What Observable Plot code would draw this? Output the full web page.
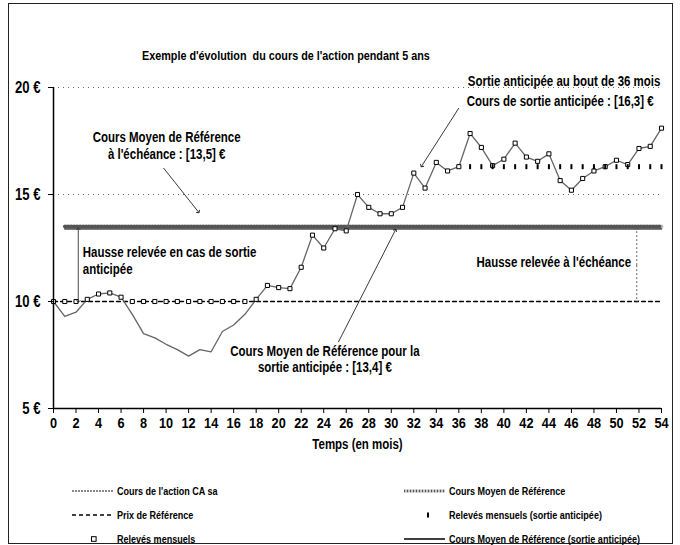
<!DOCTYPE html>
<html><head><meta charset="utf-8">
<script src="https://cdn.jsdelivr.net/npm/d3@7"></script>
<script src="https://cdn.jsdelivr.net/npm/@observablehq/plot@0.6"></script>
<style>
body{margin:0;background:#fff;}
#wrap{position:relative;width:680px;height:545px;font-family:"Liberation Sans",Arial,sans-serif;font-weight:bold;color:#000;}
#frame{position:absolute;left:8px;top:3px;width:665px;height:541px;border:1px solid #222;box-sizing:border-box;}
#title{position:absolute;top:48px;left:0;width:572px;text-align:center;font-size:13.5px;white-space:pre;z-index:2;}
#title span{display:inline-block;transform:scaleX(0.8);transform-origin:center;}
#chart{position:absolute;top:40px;left:0;}
.lg{position:absolute;font-size:11px;display:flex;align-items:center;white-space:nowrap;}
.lg svg{margin-right:4px;flex:none;}
.lg span{display:inline-block;transform:scaleX(0.82);transform-origin:left center;}
</style></head>
<body>
<div id="wrap">
<div id="frame"></div>
<div id="chart"></div>
<div id="title"><span>Exemple d'évolution  du cours de l'action pendant 5 ans</span></div>
<div id="legend"></div>
</div>
<script>
// ---- data ----
const mois = [0,1,2,3,4,5,6,7,8,9,10,11,12,13,14,15,16,17,18,19,20,21,22,23,24,25,26,27,28,29,30,31,32,33,34,35,36,37,38,39,40,41,42,43,44,45,46,47,48,49,50,51,52,53,54];
const cours = [10.0,9.3,9.5,10.1,10.35,10.4,10.2,9.4,8.5,8.3,8.0,7.75,7.45,7.75,7.65,8.6,8.9,9.4,10.1,10.75,10.65,10.6,11.6,13.1,12.5,13.4,13.3,15.0,14.4,14.1,14.1,14.4,16.0,15.3,16.5,16.1,16.3,17.85,17.2,16.35,16.65,17.4,16.75,16.55,16.9,15.65,15.2,15.75,16.1,16.3,16.6,16.4,17.15,17.25,18.1];
const releves = [10,10,10,10.1,10.35,10.4,10.2,10,10,10,10,10,10,10,10,10,10,10,10.1,10.75,10.65,10.6,11.6,13.1,12.5,13.4,13.3,15.0,14.4,14.1,14.1,14.4,16.0,15.3,16.5,16.1,16.3,17.85,17.2,16.35,16.65,17.4,16.75,16.55,16.9,15.65,15.2,15.75,16.1,16.3,16.6,16.4,17.15,17.25,18.1];
const moisSortie = [37,38,39,40,41,42,43,44,45,46,47,48,49,50,51,52,53,54];
const relevesSortie = [16.3,16.3,16.3,16.3,16.3,16.3,16.3,16.3,16.3,16.3,16.3,16.3,16.3,16.3,16.3,16.3,16.3,16.3];
const prixReference = 10;
const coursMoyen = 13.5;
const coursMoyenSortie = 13.4;
const moisDebutMoyen = 1;
const gridVals = [15, 20];
const xTicks = [0,2,4,6,8,10,12,14,16,18,20,22,24,26,28,30,32,34,36,38,40,42,44,46,48,50,52,54];
const yTicks = [5,10,15,20];
const xLabel = "Temps (en mois)";

const annotations = [
  {text:"Sortie anticipée au bout de 36 mois", x:53.9, y:20.32, anchor:"end", lh:1.2},
  {text:"Cours de sortie anticipée : [16,3] €", x:53.3, y:19.37, anchor:"end", lh:1.2},
  {text:"Cours Moyen de Référence\nà l'échéance : [13,5] €", x:10.05, y:17.29, anchor:"middle", lh:1.2},
  {text:"Hausse relevée en cas de sortie\nanticipée", x:2.6, y:11.94, anchor:"start", lh:1.2},
  {text:"Hausse relevée à l'échéance", x:51.3, y:11.85, anchor:"end", lh:1.2},
  {text:"Cours Moyen de Référence pour la\nsortie anticipée : [13,4] €", x:24.1, y:7.31, anchor:"middle", lh:1.15}
];
const arrows = [
  {x1:36.0, y1:19.04, x2:32.7, y2:16.33},
  {x1:9.77, y1:16.24, x2:12.88, y2:14.18},
  {x1:25.3, y1:8.1, x2:30.37, y2:13.34}
];
const doubleArrows = [
  {x:2.2, y1:10.0, y2:13.4, dash:null},
  {x:51.8, y1:10.0, y2:13.4, dash:"2,2"}
];

// ---- tables ----
const coursData = mois.map((m,i)=>({m, v:cours[i]}));
const relevesData = mois.map((m,i)=>({m, v:releves[i]}));
const sortieData = moisSortie.map((m,i)=>({m, v:relevesSortie[i]}));
const prixData = [{m:mois[0], v:prixReference},{m:mois[mois.length-1], v:prixReference}];
const moyenData = [{m:moisDebutMoyen, v:coursMoyen},{m:mois[mois.length-1], v:coursMoyen}];
const moyenSortieData = [{m:moisDebutMoyen, v:coursMoyenSortie},{m:mois[mois.length-1], v:coursMoyenSortie}];
const halfArrows = doubleArrows.flatMap(d=>{const mid=(d.y1+d.y2)/2; return [
  {x:d.x, y1:mid, y2:d.y1, dash:d.dash},{x:d.x, y1:mid, y2:d.y2, dash:d.dash}];});

const FONT = '"Liberation Sans",Arial,sans-serif';
const barSymbol = {draw(ctx){ ctx.rect(-1, -2.5, 2, 5); }};

const chart = Plot.plot({
  width: 680, height: 422,
  marginLeft: 53, marginRight: 19, marginTop: 47, marginBottom: 54,
  style: {fontFamily: FONT, fontWeight: "bold", color: "#000", background: "transparent", overflow: "visible"},
  x: {domain: [0, 54]},
  y: {domain: [5, 20]},
  marks: [
    Plot.ruleY(gridVals, {stroke: "#666", strokeDasharray: "1,4", strokeWidth: 1}),
    Plot.line(moyenSortieData, {x: "m", y: "v", stroke: "#000", strokeWidth: 1.6}),
    Plot.line(moyenData, {x: "m", y: "v", stroke: "#c4c4c4", strokeWidth: 4}),
    Plot.line(moyenData, {x: "m", y: "v", stroke: "#555", strokeWidth: 3.5, strokeDasharray: "1,2"}),
    Plot.line(prixData, {x: "m", y: "v", stroke: "#000", strokeWidth: 1.3, strokeDasharray: "4,3"}),
    Plot.line(coursData, {x: "m", y: "v", stroke: "#666", strokeWidth: 1.3}),
    Plot.dot(relevesData, {x: "m", y: "v", symbol: "square", r: 2.3, stroke: "#000", fill: "#fff", strokeWidth: 1}),
    Plot.dot(sortieData, {x: "m", y: "v", symbol: barSymbol, r: 2, fill: "#000", stroke: "none"}),
    Plot.link(arrows, {x1: "x1", y1: "y1", x2: "x2", y2: "y2", stroke: "#222", strokeWidth: 0.9, markerEnd: "arrow"}),
    Plot.link(halfArrows.filter(d=>!d.dash), {x1: "x", y1: "y1", x2: "x", y2: "y2", stroke: "#333", strokeWidth: 0.9, markerEnd: "arrow"}),
    Plot.link(halfArrows.filter(d=>d.dash), {x1: "x", y1: "y1", x2: "x", y2: "y2", stroke: "#555", strokeWidth: 0.9, strokeDasharray: "2,2", markerEnd: "arrow"}),
    ...annotations.map(a => Plot.text([a], {x: "x", y: "y", text: "text", textAnchor: a.anchor, lineHeight: a.lh, fontSize: 14, fontWeight: "bold", fill: "#000"})),
    Plot.ruleX([0], {y1: 5, y2: 20, stroke: "#000", strokeWidth: 1.5}),
    Plot.ruleY([5], {x1: 0, x2: 54, stroke: "#000", strokeWidth: 1.5}),
    Plot.axisX({ticks: xTicks, tickSize: 5, tickPadding: 3, fontSize: 15.5, label: null, stroke: "#000"}),
    Plot.axisY({ticks: yTicks, tickFormat: d => `${d} €`, tickSize: 5, tickPadding: 8, fontSize: 16, label: null, stroke: "#000"}),
    Plot.text([xLabel], {frameAnchor: "bottom", dy: 40, fontSize: 14, fontWeight: "bold", fill: "#000"})
  ]
});
document.getElementById("chart").appendChild(chart);

// condense all chart texts horizontally about their anchor point (Arial Narrow look)
const SVGNS = "http://www.w3.org/2000/svg";
chart.querySelectorAll("text").forEach(t => {
  const tl = t.transform.baseVal.consolidate();
  const mat = tl ? tl.matrix : {a: 1, e: 0};
  let xa = 0;
  if (t.x.baseVal.length) xa = t.x.baseVal[0].value;
  else { const ts = t.querySelector("tspan"); if (ts && ts.x.baseVal.length) xa = ts.x.baseVal[0].value; }
  const ax = mat.a * xa + mat.e;
  const g = document.createElementNS(SVGNS, "g");
  g.setAttribute("transform", `translate(${ax},0) scale(0.82,1) translate(${-ax},0)`);
  t.parentNode.insertBefore(g, t);
  g.appendChild(t);
});

// ---- legend (below the chart) ----
const legendItems = [
  {label:"Cours de l'action CA sa", kind:"grayline", x:72, y:491},
  {label:"Prix de Référence", kind:"dashed", x:72, y:515},
  {label:"Relevés mensuels", kind:"square", x:72, y:539},
  {label:"Cours Moyen de Référence", kind:"hatch", x:404, y:491},
  {label:"Relevés mensuels (sortie anticipée)", kind:"small", x:404, y:515},
  {label:"Cours Moyen de Référence (sortie anticipée)", kind:"black", x:404, y:539}
];
const leg = document.getElementById("legend");
for (const it of legendItems) {
  const div = document.createElement("div");
  div.className = "lg";
  div.style.left = it.x + "px";
  div.style.top = (it.y - 7) + "px";
  let sw = "";
  if (it.kind === "grayline") sw = '<line x1="0" y1="7" x2="41" y2="7" stroke="#666" stroke-width="1.3" stroke-dasharray="2,1"/>';
  if (it.kind === "dashed") sw = '<line x1="0" y1="7" x2="41" y2="7" stroke="#000" stroke-width="1.3" stroke-dasharray="4,3"/>';
  if (it.kind === "square") sw = '<rect x="19.5" y="4.7" width="4.6" height="4.6" fill="#fff" stroke="#000" stroke-width="1"/>';
  if (it.kind === "hatch") sw = '<line x1="0" y1="7" x2="41" y2="7" stroke="#c4c4c4" stroke-width="3"/><line x1="0" y1="7" x2="41" y2="7" stroke="#555" stroke-width="2.5" stroke-dasharray="1,2"/>';
  if (it.kind === "small") sw = '<rect x="23" y="4.5" width="2" height="5" fill="#000"/>';
  if (it.kind === "black") sw = '<line x1="0" y1="7" x2="41" y2="7" stroke="#000" stroke-width="1.6"/>';
  div.innerHTML = `<svg width="41" height="14">${sw}</svg><span>${it.label}</span>`;
  leg.appendChild(div);
}
</script>
</body></html>
